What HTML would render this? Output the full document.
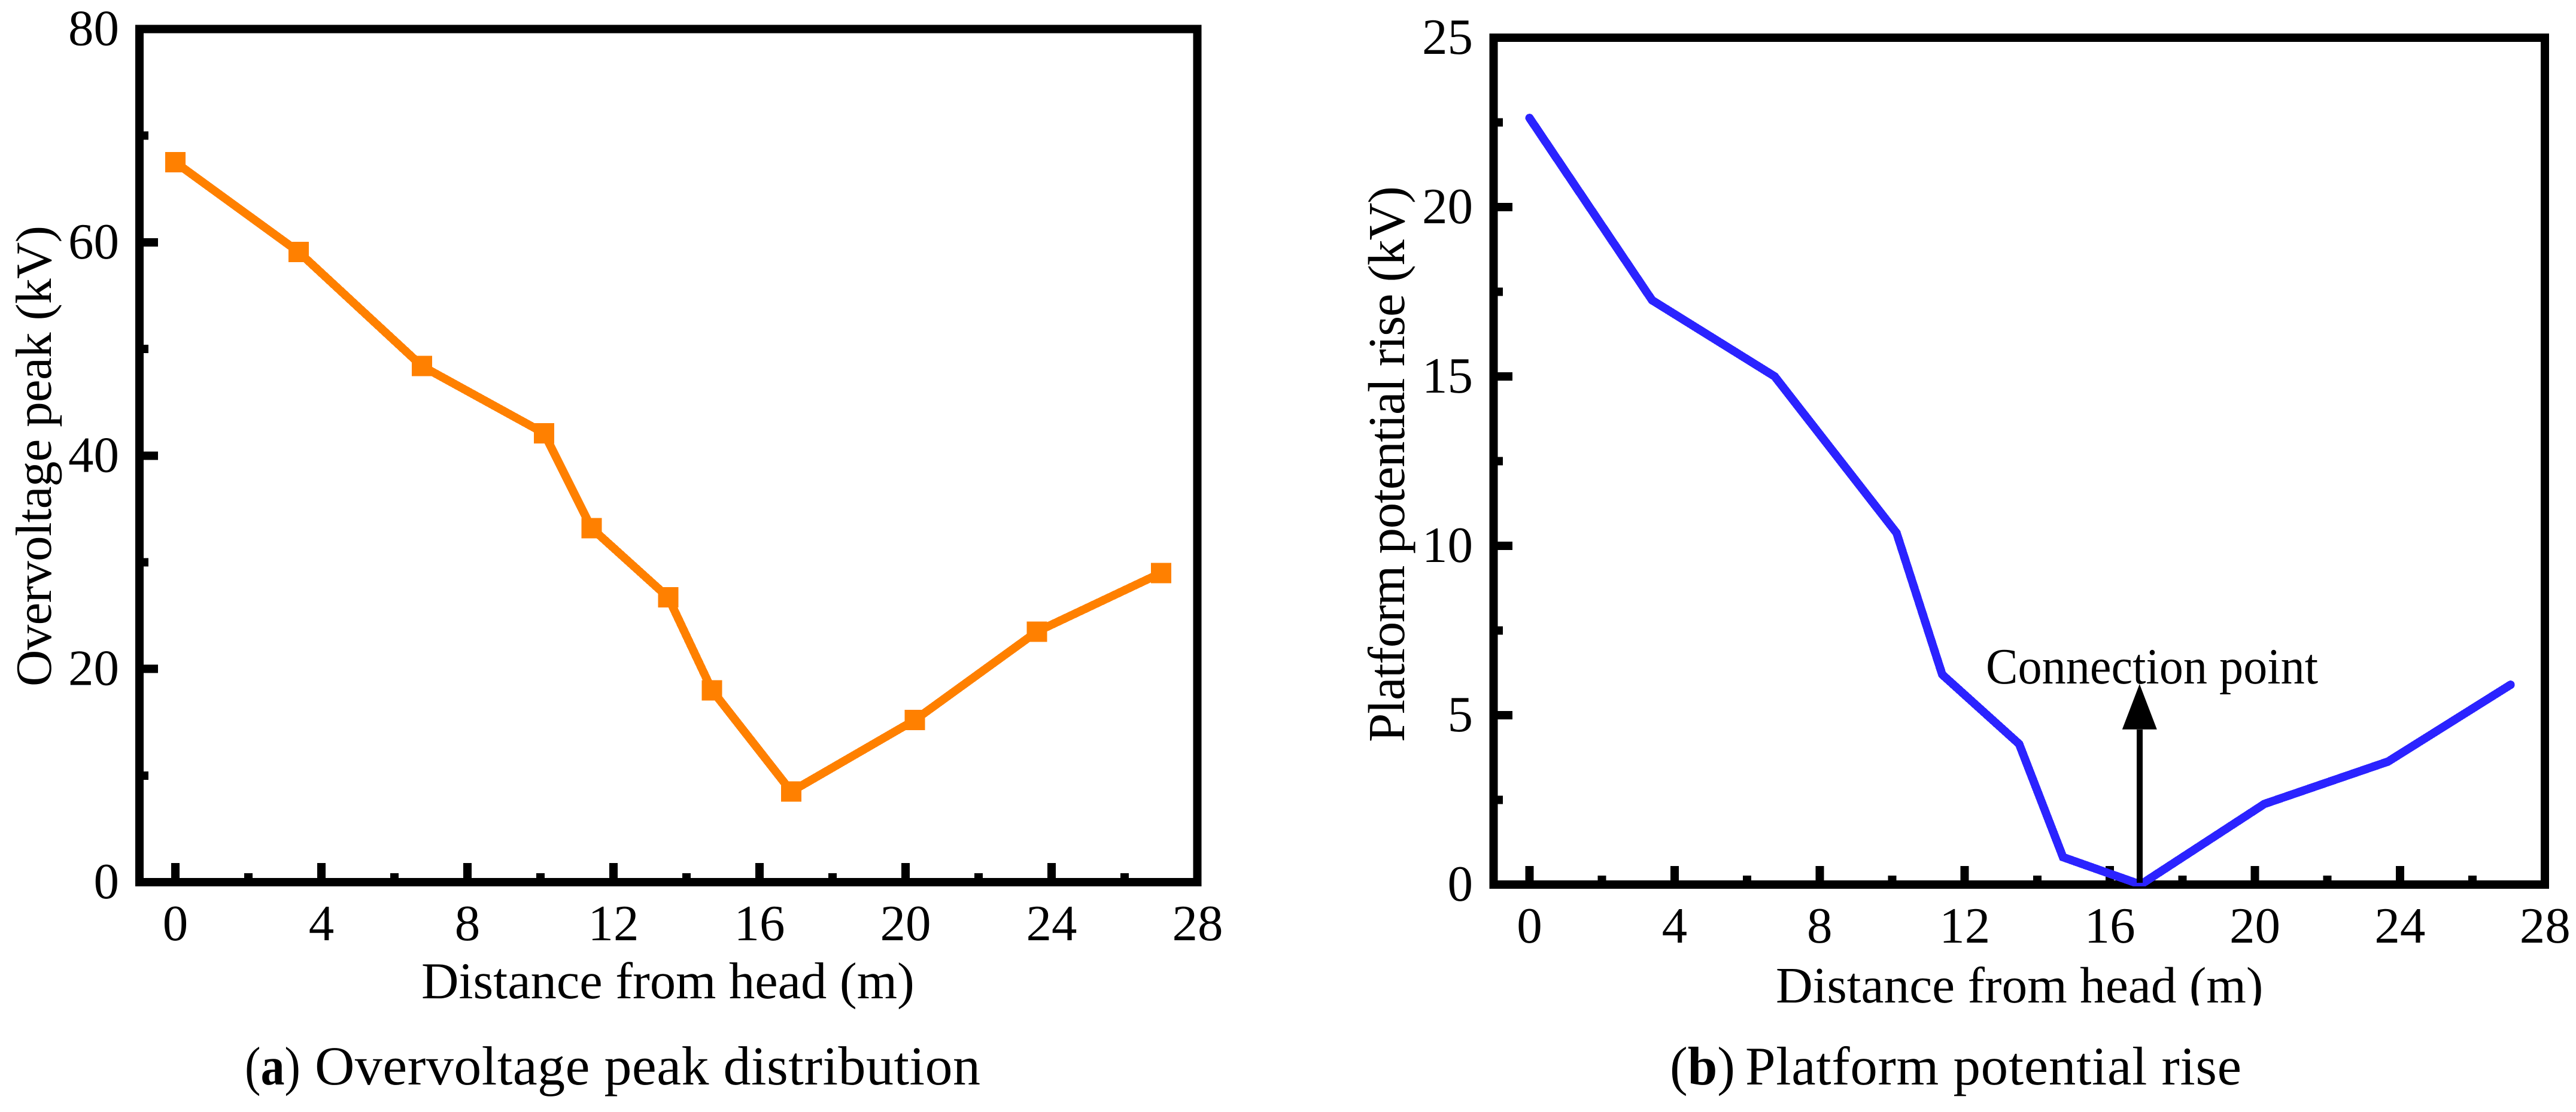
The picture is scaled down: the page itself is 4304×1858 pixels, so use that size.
<!DOCTYPE html>
<html lang="en">
<head>
<meta charset="utf-8">
<title>Overvoltage peak distribution and platform potential rise</title>
<style>
html,body{margin:0;padding:0;background:#fff;width:4304px;height:1858px;overflow:hidden}
svg{display:block}
text{font-family:"Liberation Serif","Times New Roman",serif;fill:#000;text-rendering:geometricPrecision}
.shape{shape-rendering:crispEdges}
</style>
</head>
<body>
<svg id="figure" xmlns="http://www.w3.org/2000/svg" width="4304" height="1858" viewBox="0 0 4304 1858">
  <defs>
    <clipPath id="clip-blue"><rect x="0" y="0" width="4304" height="1481"/></clipPath>
    <clipPath id="clip-title-b"><rect x="2900" y="1600" width="1000" height="80"/></clipPath>
  </defs>
  <rect x="0" y="0" width="4304" height="1858" fill="#fff"/>
  <g id="panel-a"></g>
  <g id="panel-b"></g>

  <text x="704" y="1668" font-size="86.5">Distance from head (m)</text>
  <text transform="translate(85,1147) rotate(-90)" font-size="85" textLength="770" lengthAdjust="spacing">Overvoltage peak (kV)</text>
  <text x="409" y="1812" font-size="91" textLength="93" lengthAdjust="spacingAndGlyphs">(<tspan font-weight="bold">a</tspan>)</text>
  <text x="526" y="1812" font-size="92" textLength="1112" lengthAdjust="spacing">Overvoltage peak distribution</text>

  <g clip-path="url(#clip-title-b)">
    <text x="2967" y="1675" font-size="85.5">Distance from head (m)</text>
  </g>
  <text transform="translate(2346,1240) rotate(-90)" font-size="87" textLength="929" lengthAdjust="spacing">Platform potential rise (kV)</text>
  <text x="2790" y="1812" font-size="91" textLength="109" lengthAdjust="spacingAndGlyphs">(<tspan font-weight="bold">b</tspan>)</text>
  <text x="2916" y="1812" font-size="91" textLength="829" lengthAdjust="spacing">Platform potential rise</text>
  <text x="3318" y="1142" font-size="85" textLength="555" lengthAdjust="spacingAndGlyphs">Connection point</text>
</svg>
<script>
// Panel (a) data
const distanceA = [0, 3.375, 6.75, 10.1, 11.4, 13.5, 14.7, 16.87, 20.25, 23.6, 27];
const overvoltagePeak = [67.5, 59.1, 48.4, 42.1, 33.2, 26.7, 18.0, 8.5, 15.2, 23.5, 29.0];
const yTicksA = [0, 20, 40, 60, 80];
const yMinorTicksA = [10, 30, 50, 70];

// Panel (b) data
const distanceB = [0, 3.38, 6.76, 10.12, 11.38, 13.5, 14.71, 16.85, 20.26, 23.67, 27.05];
const potentialRise = [22.63, 17.25, 15.0, 10.38, 6.2, 4.15, 0.81, 0, 2.38, 3.63, 5.9];
const yTicksB = [0, 5, 10, 15, 20, 25];
const yMinorTicksB = [2.5, 7.5, 12.5, 17.5, 22.5];
const connectionDistance = 16.82;
const connectionArrowTipValue = 5.92;
const connectionArrowBaseValue = 4.58;
const connectionArrowFootValue = 0.05;

// Shared x axis
const xTicks = [0, 4, 8, 12, 16, 20, 24, 28];
const xMinorTicks = [2, 6, 10, 14, 18, 22, 26];

const SVG_NS = 'http://www.w3.org/2000/svg';
const panelA = document.getElementById('panel-a');
const panelB = document.getElementById('panel-b');

function xScaleA(v) { return 293 + 61 * v; }
function yScaleA(v) { return 1474 - (1425.5 / 80) * v; }
function xScaleB(v) { return 2555.5 + 60.6 * v; }
function yScaleB(v) { return 1478 - (1415 / 25) * v; }

function make(tag, parent, attrs) {
  const el = document.createElementNS(SVG_NS, tag);
  for (const k in attrs) el.setAttribute(k, attrs[k]);
  parent.appendChild(el);
  return el;
}

function drawAxes(parent, cfg) {
  const frame = make('rect', parent, {
    class: 'shape', x: cfg.left, y: cfg.top, width: cfg.right - cfg.left, height: cfg.bottom - cfg.top,
    fill: 'none', stroke: '#000', 'stroke-width': 14
  });
  
  

  xTicks.forEach(function (t) {
    const px = cfg.x(t);
    if (t < 28) {
      const tick = make('rect', parent, { class: 'shape', x: px - 7, y: cfg.xMajorTop, width: 14, height: cfg.bottom - cfg.xMajorTop, fill: '#000' });
      
      
    }
    const label = make('text', parent, { x: px, y: cfg.xLabelBase, 'font-size': 85, 'text-anchor': 'middle' });
    label.textContent = t;
    
    
  });

  xMinorTicks.forEach(function (t) {
    const px = cfg.x(t);
    const tick = make('rect', parent, { class: 'shape', x: px - 7, y: cfg.xMinorTop, width: 14, height: cfg.bottom - cfg.xMinorTop, fill: '#000' });
    
    
  });

  cfg.yTicks.forEach(function (t) {
    const py = cfg.y(t);
    if (t !== cfg.yTicks[0] && t !== cfg.yTicks[cfg.yTicks.length - 1]) {
      const tick = make('rect', parent, { class: 'shape', x: cfg.left, y: py - 7, width: cfg.yMajorRight - cfg.left, height: 14, fill: '#000' });
      
      
    }
    const label = make('text', parent, { x: cfg.yLabelRight, y: py + 27, 'font-size': 85, 'text-anchor': 'end' });
    label.textContent = t;
    
    
  });

  cfg.yMinor.forEach(function (t) {
    const py = cfg.y(t);
    const tick = make('rect', parent, { class: 'shape', x: cfg.left, y: py - 7, width: cfg.yMinorRight - cfg.left, height: 14, fill: '#000' });
    
    
  });
}

function polyPoints(xs, ys, xf, yf) {
  return xs.map(function (v, i) { return xf(v).toFixed(1) + ',' + yf(ys[i]).toFixed(1); }).join(' ');
}

// Panel (a)
drawAxes(panelA, {
  left: 233, right: 2000.5, top: 48.5, bottom: 1474,
  x: xScaleA, y: yScaleA, yTicks: yTicksA, yMinor: yMinorTicksA,
  xMajorTop: 1442, xMinorTop: 1459, xLabelBase: 1571,
  yMajorRight: 264, yMinorRight: 248, yLabelRight: 199
});
const lineA = make('polyline', panelA, {
  class: 'shape', points: polyPoints(distanceA, overvoltagePeak, xScaleA, yScaleA),
  fill: 'none', stroke: '#ff8000', 'stroke-width': 14, 'stroke-linejoin': 'miter'
});


distanceA.forEach(function (d, i) {
  const m = make('rect', panelA, {
    class: 'shape', x: xScaleA(d) - 17, y: yScaleA(overvoltagePeak[i]) - 17, width: 34, height: 34, fill: '#ff8000'
  });
  
  
});

// Panel (b)
drawAxes(panelB, {
  left: 2495.5, right: 4252, top: 63, bottom: 1478,
  x: xScaleB, y: yScaleB, yTicks: yTicksB, yMinor: yMinorTicksB,
  xMajorTop: 1447, xMinorTop: 1463, xLabelBase: 1575,
  yMajorRight: 2527, yMinorRight: 2511, yLabelRight: 2461
});
const lineB = make('polyline', panelB, {
  class: 'shape', points: polyPoints(distanceB, potentialRise, xScaleB, yScaleB),
  fill: 'none', stroke: '#2b23ff', 'stroke-width': 14, 'stroke-linejoin': 'miter', 'stroke-linecap': 'round',
  'clip-path': 'url(#clip-blue)'
});



// Connection-point arrow
const arrowX = xScaleB(connectionDistance);
const arrowShaft = make('rect', panelB, {
  class: 'shape', x: arrowX - 5, y: yScaleB(connectionArrowBaseValue), width: 10,
  height: yScaleB(connectionArrowFootValue) - yScaleB(connectionArrowBaseValue), fill: '#000'
});


const arrowHead = make('polygon', panelB, {
  points: arrowX + ',' + yScaleB(connectionArrowTipValue) + ' ' +
          (arrowX - 29) + ',' + yScaleB(connectionArrowBaseValue) + ' ' +
          (arrowX + 29) + ',' + yScaleB(connectionArrowBaseValue),
  fill: '#000'
});


</script>
</body>
</html>
